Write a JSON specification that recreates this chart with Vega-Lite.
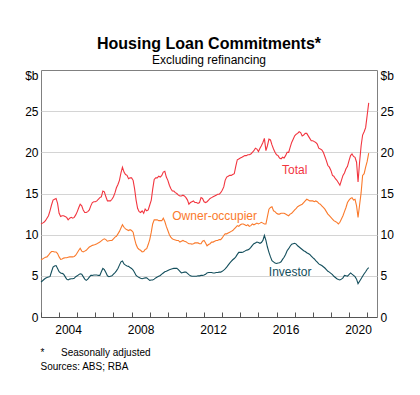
{
  "$schema": "https://vega.github.io/schema/vega-lite/v6.json",
  "width": 336,
  "height": 247,
  "autosize": "none",
  "padding": {"left": 41, "top": 70, "right": 43, "bottom": 78},
  "background": "white",
  "config": {
    "font": "Liberation Sans",
    "view": {"stroke": "#808080", "strokeWidth": 1},
    "axis": {"labelFont": "Liberation Sans", "labelFontSize": 12, "labelColor": "#000", "titleFont": "Liberation Sans", "titleColor": "#000", "titleFontWeight": "normal"}
  },
  "title": {
    "text": "Housing Loan Commitments*",
    "subtitle": "Excluding refinancing",
    "font": "Liberation Sans",
    "subtitleFont": "Liberation Sans",
    "fontSize": 16,
    "fontWeight": "bold",
    "subtitleFontSize": 12,
    "color": "#000",
    "subtitleColor": "#000",
    "anchor": "middle",
    "offset": 3,
    "subtitlePadding": 3
  },
  "datasets": {
    "series": [
      {"date":"2003-01","Total":11.3,"Owner-occupier":6.95,"Investor":4.25},
      {"date":"2003-02","Total":11.4,"Owner-occupier":7.05,"Investor":4.4},
      {"date":"2003-03","Total":11.5,"Owner-occupier":7.15,"Investor":4.55},
      {"date":"2003-04","Total":11.7,"Owner-occupier":7.25,"Investor":4.7},
      {"date":"2003-05","Total":12.0,"Owner-occupier":7.3,"Investor":4.8},
      {"date":"2003-06","Total":12.3,"Owner-occupier":7.5,"Investor":4.85},
      {"date":"2003-07","Total":12.9,"Owner-occupier":7.75,"Investor":4.9},
      {"date":"2003-08","Total":13.6,"Owner-occupier":7.95,"Investor":5.5},
      {"date":"2003-09","Total":14.2,"Owner-occupier":7.95,"Investor":6.05},
      {"date":"2003-10","Total":14.3,"Owner-occupier":7.9,"Investor":6.2},
      {"date":"2003-11","Total":14.4,"Owner-occupier":7.9,"Investor":6.25},
      {"date":"2003-12","Total":13.8,"Owner-occupier":7.7,"Investor":5.9},
      {"date":"2004-01","Total":12.6,"Owner-occupier":7.3,"Investor":5.5},
      {"date":"2004-02","Total":12.2,"Owner-occupier":7.0,"Investor":5.35},
      {"date":"2004-03","Total":12.3,"Owner-occupier":7.05,"Investor":5.3},
      {"date":"2004-04","Total":12.3,"Owner-occupier":7.15,"Investor":5.2},
      {"date":"2004-05","Total":12.2,"Owner-occupier":7.2,"Investor":4.9},
      {"date":"2004-06","Total":12.1,"Owner-occupier":7.2,"Investor":4.6},
      {"date":"2004-07","Total":11.8,"Owner-occupier":7.25,"Investor":4.5},
      {"date":"2004-08","Total":12.0,"Owner-occupier":7.3,"Investor":4.6},
      {"date":"2004-09","Total":12.1,"Owner-occupier":7.3,"Investor":4.65},
      {"date":"2004-10","Total":12.0,"Owner-occupier":7.3,"Investor":4.65},
      {"date":"2004-11","Total":12.1,"Owner-occupier":7.35,"Investor":4.7},
      {"date":"2004-12","Total":12.4,"Owner-occupier":7.5,"Investor":4.9},
      {"date":"2005-01","Total":12.8,"Owner-occupier":7.8,"Investor":5.0},
      {"date":"2005-02","Total":13.3,"Owner-occupier":8.1,"Investor":5.15},
      {"date":"2005-03","Total":13.7,"Owner-occupier":8.35,"Investor":5.25},
      {"date":"2005-04","Total":13.5,"Owner-occupier":8.0,"Investor":5.2},
      {"date":"2005-05","Total":13.0,"Owner-occupier":7.9,"Investor":4.9},
      {"date":"2005-06","Total":12.7,"Owner-occupier":8.0,"Investor":4.6},
      {"date":"2005-07","Total":12.7,"Owner-occupier":8.1,"Investor":4.45},
      {"date":"2005-08","Total":12.8,"Owner-occupier":8.3,"Investor":4.6},
      {"date":"2005-09","Total":13.0,"Owner-occupier":8.5,"Investor":4.85},
      {"date":"2005-10","Total":13.5,"Owner-occupier":8.6,"Investor":5.05},
      {"date":"2005-11","Total":13.9,"Owner-occupier":8.7,"Investor":5.05},
      {"date":"2005-12","Total":14.0,"Owner-occupier":8.75,"Investor":5.1},
      {"date":"2006-01","Total":14.0,"Owner-occupier":8.8,"Investor":5.1},
      {"date":"2006-02","Total":14.1,"Owner-occupier":8.9,"Investor":5.1},
      {"date":"2006-03","Total":14.3,"Owner-occupier":9.0,"Investor":5.05},
      {"date":"2006-04","Total":14.5,"Owner-occupier":9.1,"Investor":5.05},
      {"date":"2006-05","Total":14.6,"Owner-occupier":9.25,"Investor":5.5},
      {"date":"2006-06","Total":15.3,"Owner-occupier":9.4,"Investor":5.9},
      {"date":"2006-07","Total":15.2,"Owner-occupier":9.5,"Investor":5.75},
      {"date":"2006-08","Total":14.6,"Owner-occupier":9.4,"Investor":5.4},
      {"date":"2006-09","Total":14.1,"Owner-occupier":9.2,"Investor":5.0},
      {"date":"2006-10","Total":14.1,"Owner-occupier":9.25,"Investor":4.9},
      {"date":"2006-11","Total":14.1,"Owner-occupier":9.3,"Investor":4.95},
      {"date":"2006-12","Total":14.3,"Owner-occupier":9.3,"Investor":5.0},
      {"date":"2007-01","Total":14.6,"Owner-occupier":9.5,"Investor":5.2},
      {"date":"2007-02","Total":15.1,"Owner-occupier":9.7,"Investor":5.4},
      {"date":"2007-03","Total":15.7,"Owner-occupier":9.8,"Investor":5.6},
      {"date":"2007-04","Total":16.1,"Owner-occupier":10.1,"Investor":5.9},
      {"date":"2007-05","Total":16.6,"Owner-occupier":10.4,"Investor":6.3},
      {"date":"2007-06","Total":17.5,"Owner-occupier":10.8,"Investor":6.7},
      {"date":"2007-07","Total":18.2,"Owner-occupier":11.2,"Investor":6.8},
      {"date":"2007-08","Total":17.6,"Owner-occupier":10.9,"Investor":6.45},
      {"date":"2007-09","Total":17.3,"Owner-occupier":10.7,"Investor":6.3},
      {"date":"2007-10","Total":17.2,"Owner-occupier":10.6,"Investor":6.2},
      {"date":"2007-11","Total":16.8,"Owner-occupier":10.5,"Investor":6.15},
      {"date":"2007-12","Total":16.9,"Owner-occupier":10.6,"Investor":6.0},
      {"date":"2008-01","Total":16.9,"Owner-occupier":10.5,"Investor":5.9},
      {"date":"2008-02","Total":16.6,"Owner-occupier":10.3,"Investor":5.7},
      {"date":"2008-03","Total":15.6,"Owner-occupier":9.5,"Investor":5.4},
      {"date":"2008-04","Total":14.2,"Owner-occupier":8.8,"Investor":5.05},
      {"date":"2008-05","Total":13.2,"Owner-occupier":8.4,"Investor":4.9},
      {"date":"2008-06","Total":12.8,"Owner-occupier":8.2,"Investor":4.8},
      {"date":"2008-07","Total":12.7,"Owner-occupier":8.1,"Investor":4.7},
      {"date":"2008-08","Total":12.9,"Owner-occupier":7.9,"Investor":4.65},
      {"date":"2008-09","Total":12.6,"Owner-occupier":7.95,"Investor":4.7},
      {"date":"2008-10","Total":13.1,"Owner-occupier":8.2,"Investor":4.75},
      {"date":"2008-11","Total":12.9,"Owner-occupier":8.3,"Investor":4.75},
      {"date":"2008-12","Total":13.0,"Owner-occupier":8.8,"Investor":4.6},
      {"date":"2009-01","Total":13.6,"Owner-occupier":9.4,"Investor":4.45},
      {"date":"2009-02","Total":14.2,"Owner-occupier":10.3,"Investor":4.5},
      {"date":"2009-03","Total":15.5,"Owner-occupier":11.3,"Investor":4.5},
      {"date":"2009-04","Total":16.7,"Owner-occupier":11.8,"Investor":4.6},
      {"date":"2009-05","Total":16.9,"Owner-occupier":11.8,"Investor":4.75},
      {"date":"2009-06","Total":16.9,"Owner-occupier":11.8,"Investor":4.85},
      {"date":"2009-07","Total":17.1,"Owner-occupier":11.7,"Investor":4.95},
      {"date":"2009-08","Total":17.0,"Owner-occupier":11.7,"Investor":5.05},
      {"date":"2009-09","Total":17.2,"Owner-occupier":11.7,"Investor":5.2},
      {"date":"2009-10","Total":17.6,"Owner-occupier":12.0,"Investor":5.35},
      {"date":"2009-11","Total":17.7,"Owner-occupier":11.6,"Investor":5.5},
      {"date":"2009-12","Total":17.0,"Owner-occupier":11.0,"Investor":5.55},
      {"date":"2010-01","Total":16.6,"Owner-occupier":10.5,"Investor":5.65},
      {"date":"2010-02","Total":16.0,"Owner-occupier":10.0,"Investor":5.75},
      {"date":"2010-03","Total":15.6,"Owner-occupier":9.7,"Investor":5.8},
      {"date":"2010-04","Total":15.3,"Owner-occupier":9.5,"Investor":5.85},
      {"date":"2010-05","Total":15.3,"Owner-occupier":9.4,"Investor":5.9},
      {"date":"2010-06","Total":15.1,"Owner-occupier":9.35,"Investor":5.9},
      {"date":"2010-07","Total":15.0,"Owner-occupier":9.3,"Investor":5.9},
      {"date":"2010-08","Total":14.8,"Owner-occupier":9.3,"Investor":5.75},
      {"date":"2010-09","Total":14.7,"Owner-occupier":9.1,"Investor":5.55},
      {"date":"2010-10","Total":14.7,"Owner-occupier":9.2,"Investor":5.35},
      {"date":"2010-11","Total":14.8,"Owner-occupier":9.3,"Investor":5.4},
      {"date":"2010-12","Total":14.7,"Owner-occupier":9.2,"Investor":5.45},
      {"date":"2011-01","Total":14.5,"Owner-occupier":9.15,"Investor":5.45},
      {"date":"2011-02","Total":14.2,"Owner-occupier":9.0,"Investor":5.3},
      {"date":"2011-03","Total":13.7,"Owner-occupier":8.9,"Investor":5.15},
      {"date":"2011-04","Total":13.9,"Owner-occupier":8.9,"Investor":5.0},
      {"date":"2011-05","Total":14.0,"Owner-occupier":8.85,"Investor":4.95},
      {"date":"2011-06","Total":14.1,"Owner-occupier":8.9,"Investor":4.95},
      {"date":"2011-07","Total":13.9,"Owner-occupier":9.0,"Investor":4.95},
      {"date":"2011-08","Total":13.9,"Owner-occupier":9.0,"Investor":4.95},
      {"date":"2011-09","Total":13.8,"Owner-occupier":9.0,"Investor":5.0},
      {"date":"2011-10","Total":13.9,"Owner-occupier":8.9,"Investor":5.0},
      {"date":"2011-11","Total":14.5,"Owner-occupier":8.9,"Investor":5.05},
      {"date":"2011-12","Total":14.4,"Owner-occupier":9.2,"Investor":5.05},
      {"date":"2012-01","Total":14.0,"Owner-occupier":9.3,"Investor":5.1},
      {"date":"2012-02","Total":13.9,"Owner-occupier":9.0,"Investor":5.2},
      {"date":"2012-03","Total":14.0,"Owner-occupier":8.65,"Investor":5.35},
      {"date":"2012-04","Total":14.2,"Owner-occupier":8.8,"Investor":5.4},
      {"date":"2012-05","Total":14.4,"Owner-occupier":8.9,"Investor":5.4},
      {"date":"2012-06","Total":14.5,"Owner-occupier":9.1,"Investor":5.4},
      {"date":"2012-07","Total":14.6,"Owner-occupier":9.1,"Investor":5.35},
      {"date":"2012-08","Total":14.7,"Owner-occupier":9.2,"Investor":5.35},
      {"date":"2012-09","Total":14.8,"Owner-occupier":9.3,"Investor":5.4},
      {"date":"2012-10","Total":14.9,"Owner-occupier":9.3,"Investor":5.4},
      {"date":"2012-11","Total":14.9,"Owner-occupier":9.4,"Investor":5.45},
      {"date":"2012-12","Total":15.1,"Owner-occupier":9.4,"Investor":5.45},
      {"date":"2013-01","Total":15.4,"Owner-occupier":9.6,"Investor":5.55},
      {"date":"2013-02","Total":15.8,"Owner-occupier":9.9,"Investor":5.7},
      {"date":"2013-03","Total":16.6,"Owner-occupier":10.1,"Investor":5.85},
      {"date":"2013-04","Total":17.0,"Owner-occupier":10.1,"Investor":6.05},
      {"date":"2013-05","Total":17.1,"Owner-occupier":10.2,"Investor":6.3},
      {"date":"2013-06","Total":17.2,"Owner-occupier":10.3,"Investor":6.55},
      {"date":"2013-07","Total":17.2,"Owner-occupier":10.4,"Investor":6.75},
      {"date":"2013-08","Total":17.3,"Owner-occupier":10.5,"Investor":6.95},
      {"date":"2013-09","Total":17.4,"Owner-occupier":10.7,"Investor":7.1},
      {"date":"2013-10","Total":18.3,"Owner-occupier":10.9,"Investor":7.3},
      {"date":"2013-11","Total":19.1,"Owner-occupier":11.1,"Investor":7.6},
      {"date":"2013-12","Total":19.2,"Owner-occupier":11.0,"Investor":7.85},
      {"date":"2014-01","Total":19.3,"Owner-occupier":11.2,"Investor":7.85},
      {"date":"2014-02","Total":19.4,"Owner-occupier":11.3,"Investor":7.85},
      {"date":"2014-03","Total":19.5,"Owner-occupier":11.3,"Investor":7.9},
      {"date":"2014-04","Total":19.6,"Owner-occupier":11.2,"Investor":8.0},
      {"date":"2014-05","Total":19.6,"Owner-occupier":11.1,"Investor":8.1},
      {"date":"2014-06","Total":19.7,"Owner-occupier":11.2,"Investor":8.15},
      {"date":"2014-07","Total":19.7,"Owner-occupier":11.0,"Investor":8.25},
      {"date":"2014-08","Total":19.8,"Owner-occupier":11.1,"Investor":8.45},
      {"date":"2014-09","Total":20.0,"Owner-occupier":11.3,"Investor":8.7},
      {"date":"2014-10","Total":20.2,"Owner-occupier":11.2,"Investor":8.9},
      {"date":"2014-11","Total":20.5,"Owner-occupier":11.3,"Investor":9.0},
      {"date":"2014-12","Total":20.4,"Owner-occupier":11.4,"Investor":9.1},
      {"date":"2015-01","Total":20.1,"Owner-occupier":11.3,"Investor":9.05},
      {"date":"2015-02","Total":20.5,"Owner-occupier":11.4,"Investor":8.95},
      {"date":"2015-03","Total":20.8,"Owner-occupier":11.5,"Investor":9.05},
      {"date":"2015-04","Total":21.2,"Owner-occupier":11.4,"Investor":9.3},
      {"date":"2015-05","Total":21.7,"Owner-occupier":11.3,"Investor":9.9},
      {"date":"2015-06","Total":20.2,"Owner-occupier":11.3,"Investor":9.3},
      {"date":"2015-07","Total":20.8,"Owner-occupier":12.2,"Investor":8.5},
      {"date":"2015-08","Total":21.6,"Owner-occupier":13.1,"Investor":7.85},
      {"date":"2015-09","Total":21.5,"Owner-occupier":13.3,"Investor":7.3},
      {"date":"2015-10","Total":20.9,"Owner-occupier":13.4,"Investor":6.85},
      {"date":"2015-11","Total":20.4,"Owner-occupier":12.9,"Investor":6.7},
      {"date":"2015-12","Total":20.0,"Owner-occupier":12.8,"Investor":6.55},
      {"date":"2016-01","Total":19.7,"Owner-occupier":12.6,"Investor":6.5},
      {"date":"2016-02","Total":19.6,"Owner-occupier":12.5,"Investor":6.55},
      {"date":"2016-03","Total":19.3,"Owner-occupier":12.5,"Investor":6.6},
      {"date":"2016-04","Total":19.2,"Owner-occupier":12.6,"Investor":6.7},
      {"date":"2016-05","Total":19.4,"Owner-occupier":12.6,"Investor":7.0},
      {"date":"2016-06","Total":19.3,"Owner-occupier":12.6,"Investor":7.25},
      {"date":"2016-07","Total":19.6,"Owner-occupier":12.5,"Investor":7.6},
      {"date":"2016-08","Total":20.0,"Owner-occupier":12.4,"Investor":8.05},
      {"date":"2016-09","Total":20.0,"Owner-occupier":12.3,"Investor":8.3},
      {"date":"2016-10","Total":20.6,"Owner-occupier":12.5,"Investor":8.6},
      {"date":"2016-11","Total":21.2,"Owner-occupier":12.6,"Investor":8.85},
      {"date":"2016-12","Total":21.6,"Owner-occupier":12.8,"Investor":8.9},
      {"date":"2017-01","Total":22.0,"Owner-occupier":13.0,"Investor":8.95},
      {"date":"2017-02","Total":22.2,"Owner-occupier":13.2,"Investor":8.85},
      {"date":"2017-03","Total":22.3,"Owner-occupier":13.4,"Investor":8.65},
      {"date":"2017-04","Total":22.5,"Owner-occupier":13.5,"Investor":8.5},
      {"date":"2017-05","Total":22.4,"Owner-occupier":13.6,"Investor":8.35},
      {"date":"2017-06","Total":22.0,"Owner-occupier":13.7,"Investor":8.2},
      {"date":"2017-07","Total":22.1,"Owner-occupier":13.9,"Investor":8.05},
      {"date":"2017-08","Total":22.3,"Owner-occupier":14.1,"Investor":7.95},
      {"date":"2017-09","Total":22.3,"Owner-occupier":14.3,"Investor":7.8},
      {"date":"2017-10","Total":22.0,"Owner-occupier":14.2,"Investor":7.7},
      {"date":"2017-11","Total":21.7,"Owner-occupier":14.1,"Investor":7.6},
      {"date":"2017-12","Total":21.4,"Owner-occupier":14.1,"Investor":7.4},
      {"date":"2018-01","Total":21.4,"Owner-occupier":14.1,"Investor":7.2},
      {"date":"2018-02","Total":21.3,"Owner-occupier":14.0,"Investor":7.05},
      {"date":"2018-03","Total":21.2,"Owner-occupier":14.1,"Investor":6.85},
      {"date":"2018-04","Total":21.0,"Owner-occupier":14.0,"Investor":6.65},
      {"date":"2018-05","Total":20.5,"Owner-occupier":13.8,"Investor":6.45},
      {"date":"2018-06","Total":20.4,"Owner-occupier":13.7,"Investor":6.35},
      {"date":"2018-07","Total":20.3,"Owner-occupier":13.5,"Investor":6.25},
      {"date":"2018-08","Total":20.0,"Owner-occupier":13.3,"Investor":6.1},
      {"date":"2018-09","Total":19.5,"Owner-occupier":13.1,"Investor":5.95},
      {"date":"2018-10","Total":19.0,"Owner-occupier":12.8,"Investor":5.75},
      {"date":"2018-11","Total":18.4,"Owner-occupier":12.5,"Investor":5.55},
      {"date":"2018-12","Total":18.2,"Owner-occupier":12.3,"Investor":5.45},
      {"date":"2019-01","Total":17.8,"Owner-occupier":12.1,"Investor":5.3},
      {"date":"2019-02","Total":17.2,"Owner-occupier":11.9,"Investor":5.15},
      {"date":"2019-03","Total":17.1,"Owner-occupier":11.7,"Investor":4.95},
      {"date":"2019-04","Total":16.8,"Owner-occupier":11.6,"Investor":4.8},
      {"date":"2019-05","Total":16.6,"Owner-occupier":11.5,"Investor":4.65},
      {"date":"2019-06","Total":16.3,"Owner-occupier":11.3,"Investor":4.55},
      {"date":"2019-07","Total":16.0,"Owner-occupier":11.5,"Investor":4.5},
      {"date":"2019-08","Total":16.6,"Owner-occupier":11.9,"Investor":4.6},
      {"date":"2019-09","Total":17.2,"Owner-occupier":12.3,"Investor":4.75},
      {"date":"2019-10","Total":17.5,"Owner-occupier":12.8,"Investor":5.05},
      {"date":"2019-11","Total":18.0,"Owner-occupier":13.3,"Investor":5.0},
      {"date":"2019-12","Total":18.3,"Owner-occupier":13.9,"Investor":4.95},
      {"date":"2020-01","Total":19.0,"Owner-occupier":14.2,"Investor":5.15},
      {"date":"2020-02","Total":19.6,"Owner-occupier":14.4,"Investor":5.35},
      {"date":"2020-03","Total":19.8,"Owner-occupier":14.5,"Investor":5.2},
      {"date":"2020-04","Total":19.5,"Owner-occupier":14.2,"Investor":5.05},
      {"date":"2020-05","Total":19.4,"Owner-occupier":14.3,"Investor":4.9},
      {"date":"2020-06","Total":18.8,"Owner-occupier":13.5,"Investor":4.6},
      {"date":"2020-07","Total":16.4,"Owner-occupier":12.1,"Investor":4.05},
      {"date":"2020-08","Total":18.8,"Owner-occupier":13.6,"Investor":4.35},
      {"date":"2020-09","Total":20.8,"Owner-occupier":15.1,"Investor":4.65},
      {"date":"2020-10","Total":22.1,"Owner-occupier":17.2,"Investor":4.95},
      {"date":"2020-11","Total":22.5,"Owner-occupier":17.4,"Investor":5.25},
      {"date":"2020-12","Total":23.0,"Owner-occupier":18.2,"Investor":5.5},
      {"date":"2021-01","Total":24.5,"Owner-occupier":18.9,"Investor":5.8},
      {"date":"2021-02","Total":26.0,"Owner-occupier":19.9,"Investor":6.0}
    ],
    "labels": [
      {"date":"2017-01","value":17.8,"series":"Total"},
      {"date":"2012-08","value":12.25,"series":"Owner-occupier"},
      {"date":"2016-10","value":5.5,"series":"Investor"}
    ]
  },
  "layer": [
    {
      "data": {"name": "series"},
      "transform": [{"fold": ["Total", "Owner-occupier", "Investor"], "as": ["series", "value"]}],
      "mark": {"type": "line", "strokeWidth": 1.1},
      "encoding": {
        "x": {
          "field": "date",
          "type": "temporal",
          "scale": {"type": "utc", "domain": [{"year": 2003, "month": 1, "date": 1, "utc": true}, {"year": 2021, "month": 7, "date": 18, "utc": true}]},
          "axis": {
            "tickCount": {"interval": "year", "step": 1},
            "labelExpr": "utcyear(datum.value) % 4 == 0 ? utcFormat(datum.value, '%Y') : ''",
            "labelOffset": 9,
            "labelOverlap": false,
            "labelFlush": false,
            "labelPadding": 12,
            "tickSize": -5,
            "tickColor": "#555",
            "domainColor": "#555",
            "grid": false,
            "title": ["*\u00a0\u00a0\u00a0\u00a0\u00a0\u00a0Seasonally adjusted", "Sources: ABS; RBA"],
            "titleFontSize": 10,
            "titleAnchor": "start",
            "titleAlign": "left",
            "titleBaseline": "top",
            "titleX": -1,
            "titleY": 30,
            "titleLineHeight": 14
          }
        },
        "y": {
          "field": "value",
          "type": "quantitative",
          "scale": {"domain": [0, 30]},
          "axis": {
            "orient": "left",
            "values": [0, 5, 10, 15, 20, 25],
            "domain": false,
            "ticks": false,
            "grid": true,
            "gridColor": "#d4d4d4",
            "labelPadding": 3,
            "title": "$b",
            "titleFontSize": 12,
            "titleAngle": 0,
            "titleAlign": "right",
            "titleBaseline": "middle",
            "titleX": -3,
            "titleY": 5
          }
        },
        "color": {
          "field": "series",
          "type": "nominal",
          "scale": {"domain": ["Total", "Owner-occupier", "Investor"], "range": ["#f2353f", "#fa7a2c", "#134e5c"]},
          "legend": null
        }
      }
    },
    {
      "data": {"name": "labels"},
      "mark": {"type": "text", "fontSize": 12, "font": "Liberation Sans"},
      "encoding": {
        "x": {"field": "date", "type": "temporal"},
        "y": {
          "field": "value",
          "type": "quantitative",
          "axis": {
            "orient": "right",
            "values": [0, 5, 10, 15, 20, 25],
            "domain": false,
            "ticks": false,
            "grid": false,
            "labelPadding": 3,
            "title": "$b",
            "titleFontSize": 12,
            "titleAngle": 0,
            "titleAlign": "left",
            "titleBaseline": "middle",
            "titleX": 3,
            "titleY": 5
          }
        },
        "text": {"field": "series"},
        "color": {
          "field": "series",
          "type": "nominal",
          "scale": {"domain": ["Total", "Owner-occupier", "Investor"], "range": ["#f2353f", "#fa7a2c", "#134e5c"]},
          "legend": null
        }
      }
    }
  ],
  "resolve": {"axis": {"y": "independent"}}
}
